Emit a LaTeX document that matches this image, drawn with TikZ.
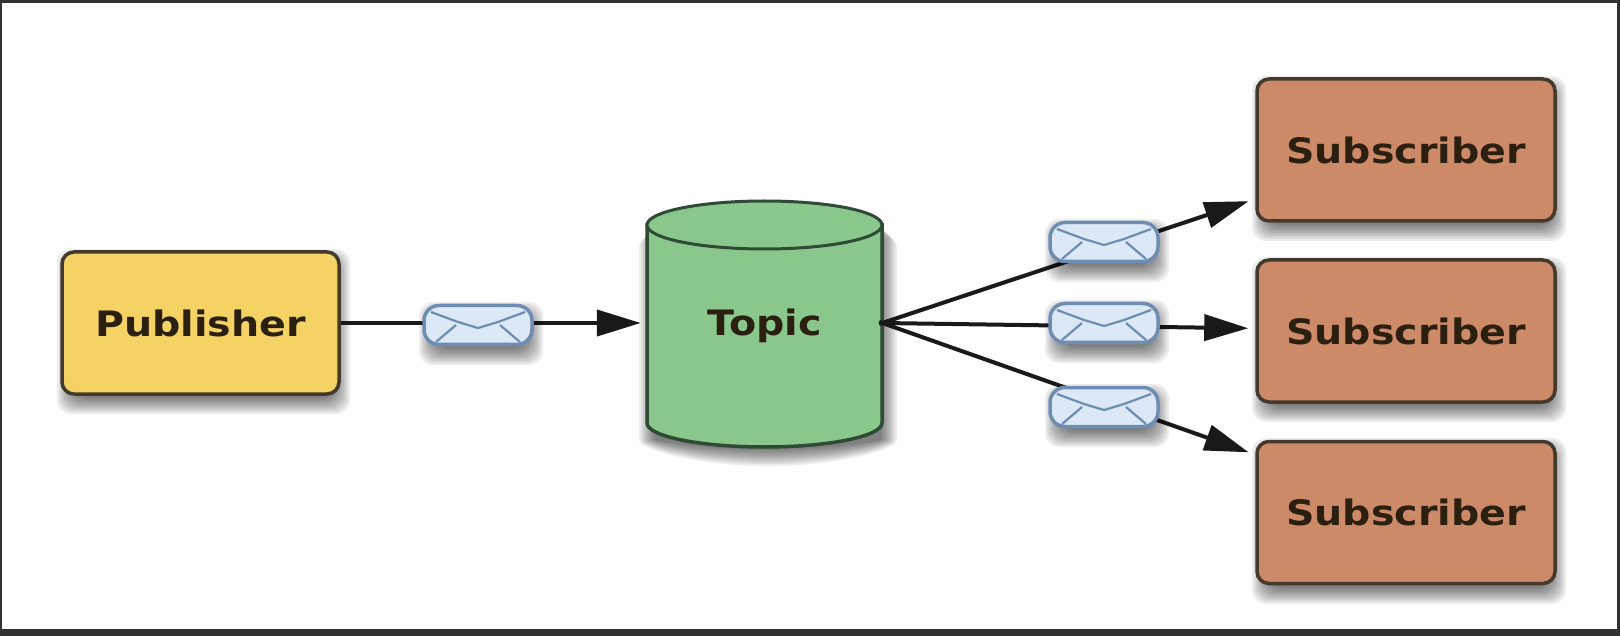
\documentclass[tikz,border=0pt]{standalone}
\usepackage{fontspec}
\setmainfont{DejaVu Sans}
\newfontfamily\labelfont[FakeStretch=1.13]{DejaVu Sans}
\usetikzlibrary{arrows.meta}
\definecolor{frame}{HTML}{303234}
\definecolor{pubfill}{HTML}{F5D264}
\definecolor{subfill}{HTML}{CC8A68}
\definecolor{topicfill}{HTML}{8AC78D}
\definecolor{boxedge}{HTML}{43392C}
\definecolor{topicedge}{HTML}{2F4A35}
\definecolor{envfill}{HTML}{DDE8F6}
\definecolor{envedge}{HTML}{6D8DB2}
\definecolor{inktext}{HTML}{2B2010}
\tikzset{
  x=1pt,y=-1pt,
  labeltext/.style={font=\labelfont\bfseries\fontsize{35}{35}\selectfont,text=inktext},
  box/.style={draw=boxedge,line width=3.5pt,rounded corners=12pt,inner sep=0pt,labeltext},
  pubbox/.style={box,fill=pubfill,minimum width=277pt,minimum height=142pt},
  subbox/.style={box,fill=subfill,minimum width=298pt,minimum height=142pt},
  topicbox/.style={inner sep=0pt,minimum width=235pt,minimum height=246pt,text height=25pt,text depth=0pt,labeltext},
  envbox/.style={draw=envedge,line width=3.5pt,fill=envfill,rounded corners=15pt,minimum width=108pt,minimum height=39pt,inner sep=0pt},
  envfold/.style={draw=envedge,line width=2.2pt,line join=round},
  link/.style={draw=black!90,line width=4pt},
  linkhead/.style={link,-{Triangle[length=44pt,width=26pt]}}
}
% blurred drop shadow made of stacked translucent rectangles
\newcommand{\softbox}[5]{%
  \foreach \g in {0,2,...,16}{%
    \fill[black,opacity=.07,rounded corners=14pt]
      (#1+3-\g+8,#2+5-\g+8) rectangle (#3+3+\g-8,#4+6+\g-2);%
  }%
}
\newcommand{\envelope}[3]{%
  \softbox{#2-54}{#3-20}{#2+54}{#3+20}{}%
  \node[envbox] (#1) at (#2,#3) {};
  \draw[envfold] ([shift={(-47,-13)}]#1.center) -- ([shift={(-20,-3)}]#1.center) -- ([shift={(0,3)}]#1.center) -- ([shift={(20,-3)}]#1.center) -- ([shift={(47,-13)}]#1.center);
  \draw[envfold] ([shift={(-42,17)}]#1.center) -- ([shift={(-22,0)}]#1.center);
  \draw[envfold] ([shift={(42,17)}]#1.center) -- ([shift={(22,0)}]#1.center);
}
\begin{document}
\begin{tikzpicture}
\useasboundingbox (0,0) rectangle (1620,636);
\fill[frame] (0,0) rectangle (1620,636);
\fill[white] (2,3) rectangle (1617,629);
% shadows
\softbox{62}{252}{339}{394}{}
\softbox{1257}{79}{1555}{221}{}
\softbox{1257}{260}{1555}{402}{}
\softbox{1257}{441}{1555}{584}{}
\foreach \g in {0,2,...,16}{%
  \fill[black,opacity=.07,rounded corners=12pt]
    (655-\g,220+\g) -- (655-\g,428) arc[start angle=180,end angle=0,x radius=113+\g,y radius=22+\g] -- (881+\g,220+\g) -- cycle;
}
% nodes
\node[pubbox] (pub) at (200.5,323) {Publisher};
\node[subbox] (sub1) at (1406,150) {Subscriber};
\node[subbox] (sub2) at (1406,331) {Subscriber};
\node[subbox] (sub3) at (1406,512.5) {Subscriber};
% topic cylinder
\draw[draw=topicedge,fill=topicfill,line width=3.5pt]
  (647,225) -- (647,423) arc[start angle=180,end angle=0,x radius=117.5,y radius=24] -- (882,225) -- cycle;
\draw[draw=topicedge,fill=topicfill,line width=3pt]
  (764.5,225) ellipse[x radius=117.5,y radius=24];
\node[topicbox] (topic) at (764.5,323) {Topic};
% connectors
\draw[linkhead,shorten >=6pt] (pub.east) -- (topic.west);
\draw[linkhead,shorten >=7pt,shorten <=-3pt] (topic.east) -- (sub1.198);
\draw[linkhead,shorten >=7pt,shorten <=-3pt] (topic.east) -- (sub2.179);
\draw[linkhead,shorten >=7pt,shorten <=-3pt] (topic.east) -- (sub3.159);
% envelopes
\envelope{env0}{478}{325}
\envelope{env1}{1104}{242}
\envelope{env2}{1104}{323}
\envelope{env3}{1104}{407}
\end{tikzpicture}
\end{document}
